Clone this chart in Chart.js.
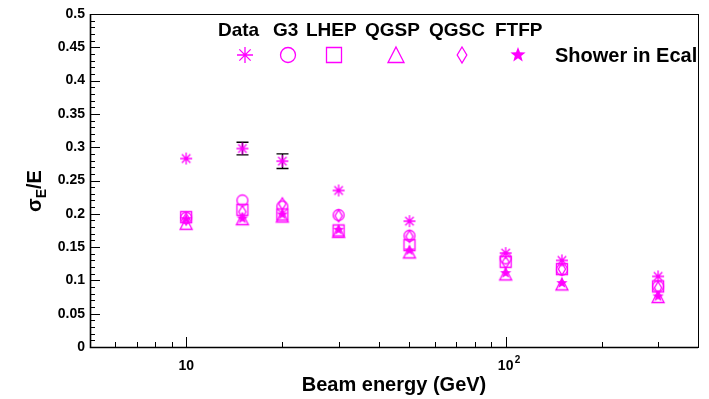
<!DOCTYPE html>
<html>
<head>
<meta charset="utf-8">
<script src="https://cdn.jsdelivr.net/npm/chart.js@4"></script>
<style>
  html, body { margin: 0; padding: 0; background: #fff; }
  #wrap { width: 709px; height: 399px; }
</style>
</head>
<body>
<div id="wrap"><canvas id="chart" width="709" height="399"></canvas></div>
<script>
// beam energies (GeV) and energy resolution sigma_E/E per model
const energies = [10, 15, 20, 30, 50, 100, 150, 300]
const dataRes = [0.283, 0.298, 0.279, 0.235, 0.189, 0.141, 0.130, 0.106]
const dataErr = [0, 0.0095, 0.011, 0, 0, 0, 0, 0]
const g3Res   = [0.194, 0.220, 0.211, 0.198, 0.167, 0.133, 0.116, 0.091]
const lhepRes = [0.195, 0.206, 0.199, 0.175, 0.153, 0.128, 0.117, 0.091]
const qgspRes = [0.185, 0.192, 0.196, 0.173, 0.142, 0.109, 0.094, 0.075]
const qgscRes = [0.192, 0.203, 0.215, 0.197, 0.166, 0.127, 0.117, 0.089]
const ftfpRes = [0.192, 0.193, 0.199, 0.176, 0.145, 0.111, 0.096, 0.076]

const legendWords = ["Data", "G3", "LHEP", "QGSP", "QGSC", "FTFP"]
const legendNote = "Shower in Ecal"
const xMajor = [10, 100]
const xMinor = [6, 7, 8, 9, 20, 30, 40, 50, 60, 70, 80, 90, 200, 300]

const MAGENTA = "#ff00ff"
const FONT = '"Liberation Sans", Arial, Helvetica, sans-serif'

// little canvases used as point styles (ROOT-like open markers)
function marker(kind, size) {
  const c = document.createElement("canvas")
  c.width = c.height = size + 4
  const g = c.getContext("2d")
  const m = c.width / 2, r = size / 2
  g.strokeStyle = MAGENTA
  g.fillStyle = MAGENTA
  g.lineWidth = 1.3
  g.beginPath()
  if (kind === "asterisk") {
    for (let i = 0; i < 4; i++) {
      const a = i * Math.PI / 4
      g.moveTo(m - r * Math.cos(a), m - r * Math.sin(a))
      g.lineTo(m + r * Math.cos(a), m + r * Math.sin(a))
    }
    g.stroke()
  } else if (kind === "circle") {
    g.arc(m, m, r - 0.5, 0, 2 * Math.PI)
    g.stroke()
  } else if (kind === "square") {
    g.rect(m - r + 0.5, m - r + 0.5, 2 * r - 1, 2 * r - 1)
    g.stroke()
  } else if (kind === "triangle") {
    g.moveTo(m, m - r)
    g.lineTo(m + r, m + r - 0.5)
    g.lineTo(m - r, m + r - 0.5)
    g.closePath()
    g.stroke()
  } else if (kind === "diamond") {
    g.moveTo(m, m - r)
    g.lineTo(m + r * 0.6, m)
    g.lineTo(m, m + r)
    g.lineTo(m - r * 0.6, m)
    g.closePath()
    g.stroke()
  } else if (kind === "star") {
    for (let i = 0; i < 10; i++) {
      const a = -Math.PI / 2 + i * Math.PI / 5
      const rr = i % 2 ? r * 0.42 : r
      g.lineTo(m + rr * Math.cos(a), m + rr * Math.sin(a))
    }
    g.closePath()
    g.fill()
  }
  return c
}

const kinds = ["asterisk", "circle", "square", "triangle", "diamond", "star"]
const small = {}, big = {}
kinds.forEach(k => { small[k] = marker(k, 12); big[k] = marker(k, 16) })

function series(label, values, kind) {
  return {
    label: label,
    data: energies.map((e, i) => ({x: e, y: values[i]})),
    pointStyle: small[kind],
    pointRadius: 6,
    showLine: false
  }
}

// frame, inward ticks, error bars, legend and y title
const decorations = {
  id: "decorations",
  beforeDatasetsDraw(chart) {
    const {ctx, scales: {x, y}} = chart
    ctx.save()
    ctx.strokeStyle = "#000"
    ctx.lineWidth = 1.4
    energies.forEach((e, i) => {
      if (!dataErr[i]) return
      const px = Math.round(x.getPixelForValue(e)) + 0.5
      const top = y.getPixelForValue(dataRes[i] + dataErr[i])
      const bot = y.getPixelForValue(dataRes[i] - dataErr[i])
      ctx.beginPath()
      ctx.moveTo(px, top); ctx.lineTo(px, bot)
      ctx.moveTo(px - 6, top); ctx.lineTo(px + 6, top)
      ctx.moveTo(px - 6, bot); ctx.lineTo(px + 6, bot)
      ctx.stroke()
    })
    ctx.restore()
  },
  afterDraw(chart) {
    const {ctx, chartArea: a, scales: {x, y}} = chart
    ctx.save()
    ctx.strokeStyle = "#000"
    ctx.lineWidth = 1
    ctx.strokeRect(a.left + 0.5, a.top + 0.5, a.right - a.left, a.bottom - a.top)
    ctx.lineWidth = 1.6
    ctx.beginPath()
    ctx.moveTo(a.left + 0.5, a.top); ctx.lineTo(a.left + 0.5, a.bottom + 0.5)
    ctx.lineTo(a.right, a.bottom + 0.5)
    ctx.stroke()
    ctx.lineWidth = 1
    ctx.beginPath()
    xMajor.forEach(v => {
      const px = Math.round(x.getPixelForValue(v)) + 0.5
      ctx.moveTo(px, a.bottom); ctx.lineTo(px, a.bottom - 10)
    })
    xMinor.forEach(v => {
      const px = Math.round(x.getPixelForValue(v)) + 0.5
      ctx.moveTo(px, a.bottom); ctx.lineTo(px, a.bottom - 5)
    })
    for (let i = 0; i <= 50; i++) {
      const py = Math.round(y.getPixelForValue(i / 100)) + 0.5
      ctx.moveTo(a.left, py); ctx.lineTo(a.left + (i % 5 ? 5 : 10), py)
    }
    ctx.stroke()

    // exponent of the 10^2 tick label
    ctx.fillStyle = "#000"
    ctx.font = "bold 10px " + FONT
    ctx.textBaseline = "alphabetic"
    ctx.fillText("2", x.getPixelForValue(100) + 9, 363)

    // legend
    const wordX = [218, 273, 306, 365, 429, 495]
    const markX = [245, 288, 334, 396, 462, 518]
    ctx.font = "bold 19px " + FONT
    legendWords.forEach((w, i) => ctx.fillText(w, wordX[i], 36))
    kinds.forEach((k, i) => {
      const img = big[k]
      ctx.drawImage(img, markX[i] - img.width / 2, 55 - img.height / 2)
    })
    ctx.font = "bold 20px " + FONT
    ctx.fillText(legendNote, 555, 62)

    // y axis title: sigma_E / E, rotated
    ctx.translate(41, 212)
    ctx.rotate(-Math.PI / 2)
    ctx.font = "bold 20px " + FONT
    ctx.fillText("σ", 0, 0)
    let off = ctx.measureText("σ").width
    ctx.font = "bold 14px " + FONT
    ctx.fillText("E", off, 5)
    off += ctx.measureText("E").width
    ctx.font = "bold 20px " + FONT
    ctx.fillText("/E", off, 0)
    ctx.restore()
  }
}

const tickFont = {family: FONT, size: 14, weight: "bold"}

new Chart(document.getElementById("chart"), {
  type: "scatter",
  data: {
    datasets: [
      series("QGSP", qgspRes, "triangle"),
      series("LHEP", lhepRes, "square"),
      series("G3", g3Res, "circle"),
      series("QGSC", qgscRes, "diamond"),
      series("FTFP", ftfpRes, "star"),
      series("Data", dataRes, "asterisk")
    ]
  },
  options: {
    responsive: false,
    animation: false,
    events: [],
    layout: {padding: {top: 14, right: 8, left: 0, bottom: 0}},
    plugins: {legend: {display: false}, tooltip: {enabled: false}},
    scales: {
      x: {
        type: "logarithmic",
        min: 5,
        max: 400,
        grid: {display: false, drawTicks: false},
        border: {display: false},
        ticks: {
          autoSkip: false,
          maxRotation: 0,
          padding: 11,
          color: "#000",
          font: tickFont,
          callback: v => Math.abs(v - 10) < 1e-6 || Math.abs(v - 100) < 1e-6 ? "10" : ""
        },
        title: {
          display: true,
          text: "Beam energy (GeV)",
          color: "#000",
          font: {family: FONT, size: 20, weight: "bold"},
          padding: {top: 0, bottom: 2}
        },
        afterFit: s => { s.height = 52 }
      },
      y: {
        min: 0,
        max: 0.5,
        grid: {display: false, drawTicks: false},
        border: {display: false},
        ticks: {
          stepSize: 0.05,
          padding: 5,
          color: "#000",
          font: tickFont,
          callback: v => String(+v.toFixed(2))
        },
        afterFit: s => { s.width = 90 }
      }
    }
  },
  plugins: [decorations]
})
</script>
</body>
</html>
